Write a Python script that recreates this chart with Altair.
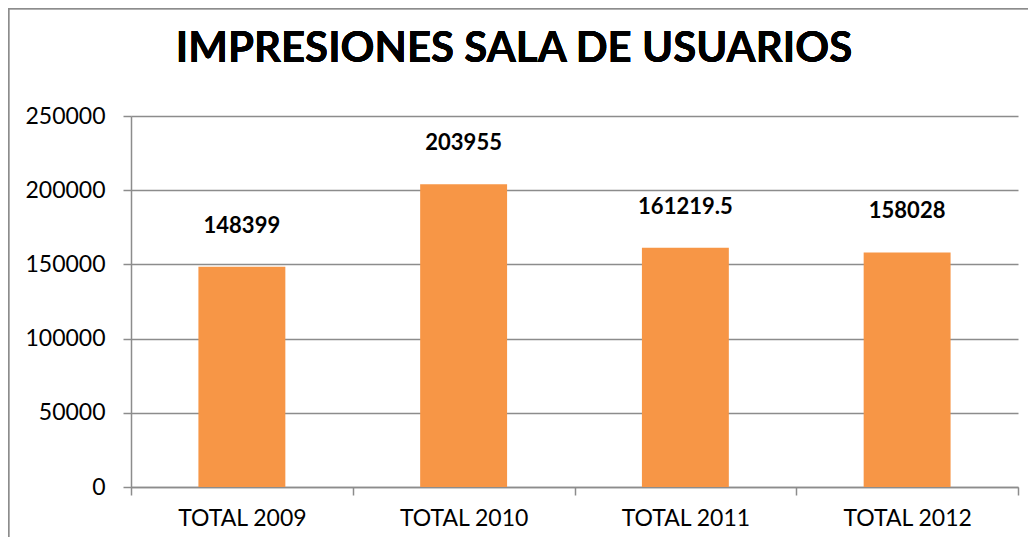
import altair as alt
import pandas as pd

categories = ["TOTAL 2009", "TOTAL 2010", "TOTAL 2011", "TOTAL 2012"]
values = [148399, 203955, 161219.5, 158028]
labels = ["148399", "203955", "161219.5", "158028"]
title_text = "IMPRESIONES SALA DE USUARIOS"

df = pd.DataFrame({"cat": categories, "val": values, "lab": labels})

FONT = "Lato"
GRAY = "#8c8c8c"

x = alt.X("cat:N", sort=categories, title=None,
          scale=alt.Scale(paddingInner=0, paddingOuter=0),
          axis=alt.Axis(labelAngle=0, tickBand="extent", tickSize=8, labelPadding=12,
                        labelFont=FONT, labelFontSize=23, labelColor="#000000",
                        domainColor=GRAY, tickColor=GRAY, domainWidth=1.5, tickWidth=1.5,
                        grid=False))
y = alt.Y("val:Q", title=None,
          scale=alt.Scale(domain=[0, 250000], nice=False),
          axis=alt.Axis(values=[0, 50000, 100000, 150000, 200000, 250000], format="d",
                        tickSize=8, labelPadding=18,
                        labelFont=FONT, labelFontSize=23, labelColor="#000000",
                        domainColor=GRAY, tickColor=GRAY, gridColor=GRAY,
                        domainWidth=1.5, tickWidth=1.5, gridWidth=1.5))

bars = alt.Chart(df).mark_bar(color="#F79646", width=alt.RelativeBandSize(0.392)).encode(x=x, y=y)

text = alt.Chart(df).mark_text(font=FONT, fontSize=22, fontWeight="bold", color="#000000",
                               baseline="alphabetic", dy=-34).encode(
    x=alt.X("cat:N", sort=categories), y="val:Q", text="lab:N")

title = alt.Chart(df).mark_text(font=FONT, fontSize=42, fontWeight="bold", color="#000000",
                                baseline="alphabetic", align="center").encode(
    x=alt.value(383), y=alt.value(-54), text=alt.value(title_text))

frame_left = alt.Chart(df).mark_rule(color=GRAY, strokeWidth=1.5).encode(
    x=alt.value(-122.5), y=alt.value(-108), y2=alt.value(600))
frame_top = alt.Chart(df).mark_rule(color=GRAY, strokeWidth=1.5).encode(
    x=alt.value(-123), x2=alt.value(1000), y=alt.value(-107.5))

chart = alt.layer(bars, text, title, frame_left, frame_top).properties(
    width=887, height=371,
    padding={"left": 123, "top": 108, "right": 10, "bottom": 50},
    autosize=alt.AutoSizeParams(type="none"),
).configure_view(stroke=None)

chart.save("out.html", embed_options={"renderer": "svg", "actions": False})
